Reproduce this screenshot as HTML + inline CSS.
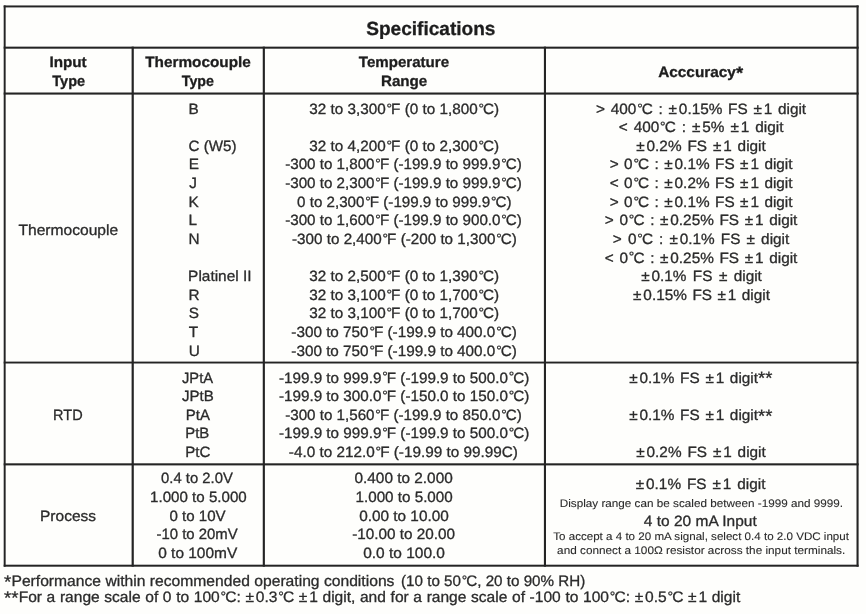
<!DOCTYPE html>
<html><head><meta charset="utf-8"><title>Specifications</title>
<style>
html,body{margin:0;padding:0;background:#fefefc;}
body{width:866px;height:614px;overflow:hidden;}
svg{display:block;font-family:"Liberation Sans",sans-serif;}
text{white-space:pre;text-rendering:geometricPrecision;}
.r{fill:#2b2b2b;stroke:#2b2b2b;stroke-width:0.3px;}
.s{fill:#2b2b2b;stroke:#2b2b2b;stroke-width:0.1px;}
.b{fill:#1d1d1d;font-weight:bold;stroke:#1d1d1d;stroke-width:0.3px;}
</style></head><body>
<svg width="866" height="614" viewBox="0 0 866 614">
<rect width="866" height="614" fill="#fefefc"/>
<rect x="3.7" y="5.45" width="854.9" height="1.97" fill="#242424"/>
<rect x="3.7" y="46.65" width="854.9" height="2.05" fill="#242424"/>
<rect x="3.7" y="92.5" width="854.9" height="2.1" fill="#242424"/>
<rect x="3.7" y="361.6" width="854.9" height="1.9" fill="#242424"/>
<rect x="3.7" y="463.3" width="854.9" height="2.1" fill="#242424"/>
<rect x="3.7" y="564.7" width="854.9" height="2.0" fill="#242424"/>
<rect x="3.7" y="5.45" width="1.95" height="561.25" fill="#242424"/>
<rect x="131.6" y="46.65" width="2.2" height="520.05" fill="#242424"/>
<rect x="262.75" y="46.65" width="2.15" height="520.05" fill="#242424"/>
<rect x="543.9" y="46.65" width="2.1" height="520.05" fill="#242424"/>
<rect x="856.5" y="5.45" width="2.1" height="561.25" fill="#242424"/>
<text class="b" font-size="19" transform="translate(366.17 35.00) scale(1.0035 1)">Specifications</text>
<text class="b" font-size="14.9" transform="translate(49.44 66.90) scale(1.0233 1)">Input</text>
<text class="b" font-size="14.9" transform="translate(52.30 85.50) scale(0.9751 1)">Type</text>
<text class="b" font-size="14.9" transform="translate(145.20 67.00) scale(1.0291 1)">Thermocouple</text>
<text class="b" font-size="14.9" transform="translate(181.80 85.50) scale(0.9572 1)">Type</text>
<text class="b" font-size="14.9" transform="translate(358.80 67.10) scale(1.0133 1)">Temperature</text>
<text class="b" font-size="14.9" transform="translate(380.94 85.50) scale(1.0190 1)">Range</text>
<text class="b" font-size="14.9" transform="translate(658.15 76.80) scale(1.0321 1)">Acccuracy<tspan dy="1.79" font-size="17.88">*</tspan></text>
<text class="r" font-size="14.9" transform="translate(18.44 234.90) scale(1.0475 1)">Thermocouple</text>
<text class="r" font-size="14.9" transform="translate(53.08 419.60) scale(0.9746 1)">RTD</text>
<text class="r" font-size="14.9" transform="translate(40.01 520.50) scale(1.0422 1)">Process</text>
<text class="r" font-size="14.9" transform="translate(188.43 113.60) scale(1.0300 1)">B</text>
<text class="r" font-size="14.9" transform="translate(188.60 150.84) scale(1.0166 1)">C (W5)</text>
<text class="r" font-size="14.9" transform="translate(188.63 169.46) scale(1.0300 1)">E</text>
<text class="r" font-size="14.9" transform="translate(189.20 188.08) scale(1.0300 1)">J</text>
<text class="r" font-size="14.9" transform="translate(188.43 206.70) scale(1.0300 1)">K</text>
<text class="r" font-size="14.9" transform="translate(188.53 225.32) scale(1.0300 1)">L</text>
<text class="r" font-size="14.9" transform="translate(188.43 243.94) scale(1.0300 1)">N</text>
<text class="r" font-size="14.9" transform="translate(188.12 281.18) scale(1.0341 1)">Platinel II</text>
<text class="r" font-size="14.9" transform="translate(188.53 299.80) scale(1.0300 1)">R</text>
<text class="r" font-size="14.9" transform="translate(188.84 318.42) scale(1.0300 1)">S</text>
<text class="r" font-size="14.9" transform="translate(188.85 337.04) scale(1.0300 1)">T</text>
<text class="r" font-size="14.9" transform="translate(188.68 355.66) scale(1.0300 1)">U</text>
<text class="r" font-size="14.9" transform="translate(309.30 113.60) scale(1.0252 1)">32 to 3,300<tspan dx="0.8" dy="-1.07" font-size="13.41">°</tspan><tspan dx="-0.9" dy="1.07">F (0 to 1,800</tspan><tspan dx="0.8" dy="-1.07" font-size="13.41">°</tspan><tspan dx="-0.9" dy="1.07">C)</tspan></text>
<text class="r" font-size="14.9" transform="translate(309.30 150.84) scale(1.0252 1)">32 to 4,200<tspan dx="0.8" dy="-1.07" font-size="13.41">°</tspan><tspan dx="-0.9" dy="1.07">F (0 to 2,300</tspan><tspan dx="0.8" dy="-1.07" font-size="13.41">°</tspan><tspan dx="-0.9" dy="1.07">C)</tspan></text>
<text class="r" font-size="14.9" transform="translate(285.15 169.46) scale(1.0185 1)">-300 to 1,800<tspan dx="0.8" dy="-1.07" font-size="13.41">°</tspan><tspan dx="-0.9" dy="1.07">F (-199.9 to 999.9</tspan><tspan dx="0.8" dy="-1.07" font-size="13.41">°</tspan><tspan dx="-0.9" dy="1.07">C)</tspan></text>
<text class="r" font-size="14.9" transform="translate(285.15 188.08) scale(1.0185 1)">-300 to 2,300<tspan dx="0.8" dy="-1.07" font-size="13.41">°</tspan><tspan dx="-0.9" dy="1.07">F (-199.9 to 999.9</tspan><tspan dx="0.8" dy="-1.07" font-size="13.41">°</tspan><tspan dx="-0.9" dy="1.07">C)</tspan></text>
<text class="r" font-size="14.9" transform="translate(297.10 206.70) scale(1.0170 1)">0 to 2,300<tspan dx="0.8" dy="-1.07" font-size="13.41">°</tspan><tspan dx="-0.9" dy="1.07">F (-199.9 to 999.9</tspan><tspan dx="0.8" dy="-1.07" font-size="13.41">°</tspan><tspan dx="-0.9" dy="1.07">C)</tspan></text>
<text class="r" font-size="14.9" transform="translate(285.15 225.32) scale(1.0185 1)">-300 to 1,600<tspan dx="0.8" dy="-1.07" font-size="13.41">°</tspan><tspan dx="-0.9" dy="1.07">F (-199.9 to 900.0</tspan><tspan dx="0.8" dy="-1.07" font-size="13.41">°</tspan><tspan dx="-0.9" dy="1.07">C)</tspan></text>
<text class="r" font-size="14.9" transform="translate(292.04 243.94) scale(1.0220 1)">-300 to 2,400<tspan dx="0.8" dy="-1.07" font-size="13.41">°</tspan><tspan dx="-0.9" dy="1.07">F (-200 to 1,300</tspan><tspan dx="0.8" dy="-1.07" font-size="13.41">°</tspan><tspan dx="-0.9" dy="1.07">C)</tspan></text>
<text class="r" font-size="14.9" transform="translate(309.30 281.18) scale(1.0252 1)">32 to 2,500<tspan dx="0.8" dy="-1.07" font-size="13.41">°</tspan><tspan dx="-0.9" dy="1.07">F (0 to 1,390</tspan><tspan dx="0.8" dy="-1.07" font-size="13.41">°</tspan><tspan dx="-0.9" dy="1.07">C)</tspan></text>
<text class="r" font-size="14.9" transform="translate(309.30 299.80) scale(1.0252 1)">32 to 3,100<tspan dx="0.8" dy="-1.07" font-size="13.41">°</tspan><tspan dx="-0.9" dy="1.07">F (0 to 1,700</tspan><tspan dx="0.8" dy="-1.07" font-size="13.41">°</tspan><tspan dx="-0.9" dy="1.07">C)</tspan></text>
<text class="r" font-size="14.9" transform="translate(309.30 318.42) scale(1.0252 1)">32 to 3,100<tspan dx="0.8" dy="-1.07" font-size="13.41">°</tspan><tspan dx="-0.9" dy="1.07">F (0 to 1,700</tspan><tspan dx="0.8" dy="-1.07" font-size="13.41">°</tspan><tspan dx="-0.9" dy="1.07">C)</tspan></text>
<text class="r" font-size="14.9" transform="translate(291.34 337.04) scale(1.0251 1)">-300 to 750<tspan dx="0.8" dy="-1.07" font-size="13.41">°</tspan><tspan dx="-0.9" dy="1.07">F (-199.9 to 400.0</tspan><tspan dx="0.8" dy="-1.07" font-size="13.41">°</tspan><tspan dx="-0.9" dy="1.07">C)</tspan></text>
<text class="r" font-size="14.9" transform="translate(291.34 355.66) scale(1.0251 1)">-300 to 750<tspan dx="0.8" dy="-1.07" font-size="13.41">°</tspan><tspan dx="-0.9" dy="1.07">F (-199.9 to 400.0</tspan><tspan dx="0.8" dy="-1.07" font-size="13.41">°</tspan><tspan dx="-0.9" dy="1.07">C)</tspan></text>
<text class="r" font-size="14.9" style="word-spacing:1.437px" transform="translate(596.04 113.60) scale(1.0300 1)">&gt; 400<tspan dx="0.8" dy="-1.07" font-size="13.41">°</tspan><tspan dx="-0.9" dy="1.07">C : ±</tspan><tspan dx="1.8">0.15% FS ±</tspan><tspan dx="1.8">1 digit</tspan></text>
<text class="r" font-size="14.9" style="word-spacing:1.688px" transform="translate(618.74 132.22) scale(1.0300 1)">&lt; 400<tspan dx="0.8" dy="-1.07" font-size="13.41">°</tspan><tspan dx="-0.9" dy="1.07">C : ±</tspan><tspan dx="1.8">5% ±</tspan><tspan dx="1.8">1 digit</tspan></text>
<text class="r" font-size="14.9" style="word-spacing:1.583px" transform="translate(636.29 150.84) scale(1.0300 1)">±<tspan dx="1.8">0.2% FS ±</tspan><tspan dx="1.8">1 digit</tspan></text>
<text class="r" font-size="14.9" style="word-spacing:1.179px" transform="translate(609.64 169.46) scale(1.0300 1)">&gt; 0<tspan dx="0.8" dy="-1.07" font-size="13.41">°</tspan><tspan dx="-0.9" dy="1.07">C : ±</tspan><tspan dx="1.8">0.1% FS ±</tspan><tspan dx="1.8">1 digit</tspan></text>
<text class="r" font-size="14.9" style="word-spacing:1.179px" transform="translate(609.64 188.08) scale(1.0300 1)">&lt; 0<tspan dx="0.8" dy="-1.07" font-size="13.41">°</tspan><tspan dx="-0.9" dy="1.07">C : ±</tspan><tspan dx="1.8">0.2% FS ±</tspan><tspan dx="1.8">1 digit</tspan></text>
<text class="r" font-size="14.9" style="word-spacing:1.179px" transform="translate(609.64 206.70) scale(1.0300 1)">&gt; 0<tspan dx="0.8" dy="-1.07" font-size="13.41">°</tspan><tspan dx="-0.9" dy="1.07">C : ±</tspan><tspan dx="1.8">0.1% FS ±</tspan><tspan dx="1.8">1 digit</tspan></text>
<text class="r" font-size="14.9" style="word-spacing:1.352px" transform="translate(604.84 225.32) scale(1.0300 1)">&gt; 0<tspan dx="0.8" dy="-1.07" font-size="13.41">°</tspan><tspan dx="-0.9" dy="1.07">C : ±</tspan><tspan dx="1.8">0.25% FS ±</tspan><tspan dx="1.8">1 digit</tspan></text>
<text class="r" font-size="14.9" style="word-spacing:1.809px" transform="translate(612.84 243.94) scale(1.0300 1)">&gt; 0<tspan dx="0.8" dy="-1.07" font-size="13.41">°</tspan><tspan dx="-0.9" dy="1.07">C : ±</tspan><tspan dx="1.8">0.1% FS ± digit</tspan></text>
<text class="r" font-size="14.9" style="word-spacing:1.352px" transform="translate(604.84 262.56) scale(1.0300 1)">&lt; 0<tspan dx="0.8" dy="-1.07" font-size="13.41">°</tspan><tspan dx="-0.9" dy="1.07">C : ±</tspan><tspan dx="1.8">0.25% FS ±</tspan><tspan dx="1.8">1 digit</tspan></text>
<text class="r" font-size="14.9" style="word-spacing:2.098px" transform="translate(641.19 281.18) scale(1.0300 1)">±<tspan dx="1.8">0.1% FS ± digit</tspan></text>
<text class="r" font-size="14.9" style="word-spacing:1.216px" transform="translate(633.09 299.80) scale(1.0300 1)">±<tspan dx="1.8">0.15% FS ±</tspan><tspan dx="1.8">1 digit</tspan></text>
<text class="r" font-size="14.9" transform="translate(182.00 382.50) scale(0.9886 1)">JPtA</text>
<text class="r" font-size="14.9" transform="translate(182.00 401.12) scale(1.0124 1)">JPtB</text>
<text class="r" font-size="14.9" transform="translate(185.75 419.74) scale(1.0057 1)">PtA</text>
<text class="r" font-size="14.9" transform="translate(185.25 438.36) scale(1.0034 1)">PtB</text>
<text class="r" font-size="14.9" transform="translate(185.24 456.98) scale(1.0142 1)">PtC</text>
<text class="r" font-size="14.9" transform="translate(278.94 382.50) scale(1.0228 1)">-199.9 to 999.9<tspan dx="0.8" dy="-1.07" font-size="13.41">°</tspan><tspan dx="-0.9" dy="1.07">F (-199.9 to 500.0</tspan><tspan dx="0.8" dy="-1.07" font-size="13.41">°</tspan><tspan dx="-0.9" dy="1.07">C)</tspan></text>
<text class="r" font-size="14.9" transform="translate(278.94 401.12) scale(1.0228 1)">-199.9 to 300.0<tspan dx="0.8" dy="-1.07" font-size="13.41">°</tspan><tspan dx="-0.9" dy="1.07">F (-150.0 to 150.0</tspan><tspan dx="0.8" dy="-1.07" font-size="13.41">°</tspan><tspan dx="-0.9" dy="1.07">C)</tspan></text>
<text class="r" font-size="14.9" transform="translate(285.15 419.74) scale(1.0185 1)">-300 to 1,560<tspan dx="0.8" dy="-1.07" font-size="13.41">°</tspan><tspan dx="-0.9" dy="1.07">F (-199.9 to 850.0</tspan><tspan dx="0.8" dy="-1.07" font-size="13.41">°</tspan><tspan dx="-0.9" dy="1.07">C)</tspan></text>
<text class="r" font-size="14.9" transform="translate(278.94 438.36) scale(1.0228 1)">-199.9 to 999.9<tspan dx="0.8" dy="-1.07" font-size="13.41">°</tspan><tspan dx="-0.9" dy="1.07">F (-199.9 to 500.0</tspan><tspan dx="0.8" dy="-1.07" font-size="13.41">°</tspan><tspan dx="-0.9" dy="1.07">C)</tspan></text>
<text class="r" font-size="14.9" transform="translate(288.84 456.98) scale(1.0270 1)">-4.0 to 212.0<tspan dx="0.8" dy="-1.07" font-size="13.41">°</tspan><tspan dx="-0.9" dy="1.07">F (-19.99 to 99.99C)</tspan></text>
<text class="r" font-size="14.9" style="word-spacing:1.370px" transform="translate(629.19 382.50) scale(1.0300 1)">±<tspan dx="1.8">0.1% FS ±</tspan><tspan dx="1.8">1 digit</tspan><tspan dy="1.79" font-size="17.88">**</tspan></text>
<text class="r" font-size="14.9" style="word-spacing:1.370px" transform="translate(629.19 419.74) scale(1.0300 1)">±<tspan dx="1.8">0.1% FS ±</tspan><tspan dx="1.8">1 digit</tspan><tspan dy="1.79" font-size="17.88">**</tspan></text>
<text class="r" font-size="14.9" style="word-spacing:1.583px" transform="translate(636.29 456.98) scale(1.0300 1)">±<tspan dx="1.8">0.2% FS ±</tspan><tspan dx="1.8">1 digit</tspan></text>
<text class="r" font-size="14.9" transform="translate(161.10 483.40) scale(0.9949 1)">0.4 to 2.0V</text>
<text class="r" font-size="14.9" transform="translate(150.09 502.02) scale(1.0149 1)">1.000 to 5.000</text>
<text class="r" font-size="14.9" transform="translate(169.50 520.64) scale(1.0126 1)">0 to 10V</text>
<text class="r" font-size="14.9" transform="translate(156.45 539.26) scale(1.0011 1)">-10 to 20mV</text>
<text class="r" font-size="14.9" transform="translate(158.19 557.88) scale(1.0381 1)">0 to 100mV</text>
<text class="r" font-size="14.9" transform="translate(354.49 483.40) scale(1.0318 1)">0.400 to 2.000</text>
<text class="r" font-size="14.9" transform="translate(355.49 502.02) scale(1.0213 1)">1.000 to 5.000</text>
<text class="r" font-size="14.9" transform="translate(359.19 520.64) scale(1.0301 1)">0.00 to 10.00</text>
<text class="r" font-size="14.9" transform="translate(352.14 539.26) scale(1.0261 1)">-10.00 to 20.00</text>
<text class="r" font-size="14.9" transform="translate(363.19 557.88) scale(1.0395 1)">0.0 to 100.0</text>
<text class="r" font-size="14.9" style="word-spacing:1.648px" transform="translate(635.79 488.60) scale(1.0300 1)">±<tspan dx="1.8">0.1% FS ±</tspan><tspan dx="1.8">1 digit</tspan></text>
<text class="s" font-size="11" transform="translate(559.72 507.00) scale(1.0652 1)">Display range can be scaled between -1999 and 9999.</text>
<text class="r" font-size="14.9" transform="translate(643.85 525.60) scale(1.0405 1)">4 to 20 mA Input</text>
<text class="s" font-size="11" transform="translate(553.22 539.60) scale(1.0538 1)">To accept a 4 to 20 mA signal, select 0.4 to 2.0 VDC input</text>
<text class="s" font-size="11" transform="translate(557.08 553.60) scale(1.0701 1)">and connect a 100Ω resistor across the input terminals.</text>
<text class="r" font-size="15.2" transform="translate(4.10 585.80) scale(1.0311 1)"><tspan dy="1.82" font-size="18.24">*</tspan><tspan dy="-1.82">Performance within recommended operating conditions</tspan></text>
<text class="r" font-size="15.2" transform="translate(401.04 585.80) scale(0.9991 1)">(10 to 50<tspan dx="0.8" dy="-1.09" font-size="13.68">°</tspan><tspan dx="-0.9" dy="1.09">C, 20 to 90% RH)</tspan></text>
<text class="r" font-size="15.2" style="word-spacing:0.312px" transform="translate(4.10 601.90) scale(1.0240 1)"><tspan dy="1.82" font-size="18.24">**</tspan><tspan dy="-1.82">For a range scale of 0 to 100</tspan><tspan dx="0.8" dy="-1.09" font-size="13.68">°</tspan><tspan dx="-0.9" dy="1.09">C: ±</tspan><tspan dx="1.8">0.3</tspan><tspan dx="0.8" dy="-1.09" font-size="13.68">°</tspan><tspan dx="-0.9" dy="1.09">C ±</tspan><tspan dx="1.8">1 digit, and for a range scale of -100 to 100</tspan><tspan dx="0.8" dy="-1.09" font-size="13.68">°</tspan><tspan dx="-0.9" dy="1.09">C: ±</tspan><tspan dx="1.8">0.5</tspan><tspan dx="0.8" dy="-1.09" font-size="13.68">°</tspan><tspan dx="-0.9" dy="1.09">C ±</tspan><tspan dx="1.8">1 digit</tspan></text>
</svg>
</body></html>
